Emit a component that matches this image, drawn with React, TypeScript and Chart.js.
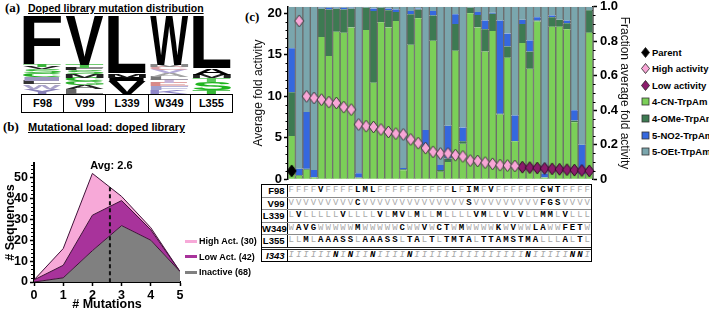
import React, { useEffect, useRef } from "react";
import { Chart, registerables } from "chart.js";

Chart.register(...registerables);

const SANS = '"Liberation Sans", Arial, Helvetica, sans-serif';
const SERIF = '"Liberation Serif", "Times New Roman", serif';
const MONO = '"Liberation Mono", "Courier New", monospace';

Chart.defaults.color = "#000";
Chart.defaults.font.family = SANS;

/* ---------- (a) doped-library sequence logo ---------- */
const logoPositions = ["F98", "V99", "L339", "W349", "L355"];
const logoMaxBits = 4.32;
// residue stacks, bottom to top: [residue, bits, colour]
const logoF98: [string, number, string][] = [
  ["Y", 0.3, "#8a82b8"], ["W", 0.24, "#a9a3c9"], ["L", 0.18, "#333333"], ["I", 0.24, "#9d97c0"],
  ["C", 0.18, "#20b020"], ["S", 0.24, "#37b837"], ["V", 0.12, "#222222"], ["T", 0.12, "#3cb43c"],
  ["F", 2.7, "#000000"],
];
const logoV99: [string, number, string][] = [
  ["L", 0.3, "#666666"], ["A", 0.18, "#222222"], ["G", 0.24, "#2cb02c"], ["C", 0.18, "#20b020"],
  ["M", 0.18, "#222222"], ["S", 0.24, "#3cb43c"], ["F", 0.12, "#222222"], ["T", 0.18, "#49bd49"],
  ["V", 2.7, "#000000"],
];
const logoL339: [string, number, string][] = [
  ["V", 0.72, "#000000"], ["I", 0.18, "#000000"], ["M", 0.24, "#111111"],
  ["L", 3.18, "#000000"],
];
const logoW349: [string, number, string][] = [
  ["K", 0.24, "#8f86c8"], ["F", 0.18, "#9f9fd0"], ["E", 0.18, "#d88a8a"], ["T", 0.18, "#c7b3d9"],
  ["L", 0.18, "#777777"], ["A", 0.18, "#a3a3a3"], ["V", 0.18, "#b2a8d8"], ["C", 0.18, "#d99fa3"],
  ["M", 0.12, "#888888"], ["W", 2.7, "#000000"],
];
const logoL355: [string, number, string][] = [
  ["T", 0.24, "#37b837"], ["S", 0.42, "#1fb51f"], ["T", 0.24, "#5bc95b"], ["M", 0.18, "#222222"],
  ["A", 0.36, "#000000"], ["L", 2.88, "#000000"],
];
const logoStacks = [logoF98, logoV99, logoL339, logoW349, logoL355];

/* ---------- (b) mutational load of the doped library ---------- */
const mutationCounts = [0, 1, 2, 3, 4, 5];
const inactiveSeqs = [0, 2, 15, 27, 20, 5];
const lowActSeqs = [1, 6, 17, 12, 5, 0];
const highActSeqs = [0, 8, 20, 2, 1, 0];
const avgMutations = 2.6;
const loadLegend = ["High Act. (30)", "Low Act. (42)", "Inactive (68)"];

/* ---------- (c) fold activity of the selected variants ---------- */
const parentFold = [1.0];
const highFold = [
  19.1, 10.0, 9.8, 9.6, 9.3, 9.2, 8.7, 8.4, 6.6, 6.4, 6.3, 6.0, 5.7, 5.5, 5.4,
  4.8, 4.35, 3.75, 3.3, 3.1, 3.1, 2.9, 2.75, 2.25, 2.2, 2.0, 1.85, 1.7, 1.65, 1.6,
];
const lowFold = [1.45, 1.4, 1.35, 1.3, 1.25, 1.2, 1.15, 1.1, 1.05, 1.0];

const fracCN = [
  0.25, 0.02, 0.055, 0.01, 0.825, 0.715, 0.855, 0.85, 0.88, 0.005, 0.865, 0.56, 0.91, 0.88,
  0.918, 0.052, 0.78, 0.933, 0.175, 0.803, 0.043, 0.1, 0.745, 0.205, 0.962, 0.88, 0.74, 0.86,
  0.375, 0.705, 0.22, 0.79, 0.64, 0.915, 0.01, 0.885, 0.885, 0.87, 0.33, 0.03, 0.85,
];
const fracOMe = [
  0.255, 0.005, 0.005, 0.003, 0.165, 0.27, 0.135, 0.135, 0.11, 0.005, 0.13, 0.415, 0.085, 0.1,
  0.052, 0.005, 0.177, 0.052, 0.01, 0.147, 0.01, 0.02, 0.155, 0.015, 0.033, 0.072, 0.13, 0.1,
  0.005, 0.065, 0, 0.11, 0.1, 0.005, 0, 0.055, 0.04, 0.035, 0.01, 0, 0.13,
];
const fracNO2 = [
  0.255, 0.035, 0.33, 0.04, 0.005, 0.01, 0.005, 0.01, 0.005, 0.025, 0, 0.015, 0, 0.01,
  0.015, 0.008, 0.019, 0.005, 0.1, 0.026, 0.03, 0.19, 0.057, 0.08, 0, 0.018, 0.05, 0.005,
  0.54, 0.075, 0.15, 0.025, 0.065, 0.02, 0.02, 0.01, 0, 0.015, 0.06, 0.17, 0,
];
const fracOEt = [
  0.24, 0.94, 0.61, 0.947, 0.005, 0.005, 0.005, 0.005, 0.005, 0.965, 0.005, 0.01, 0.005, 0.01,
  0.015, 0.935, 0.024, 0.01, 0.715, 0.024, 0.917, 0.69, 0.043, 0.7, 0.005, 0.03, 0.08, 0.035,
  0.08, 0.155, 0.63, 0.075, 0.195, 0.06, 0.97, 0.05, 0.075, 0.08, 0.6, 0.8, 0.02,
];

const seqRowLabels = ["F98", "V99", "L339", "W349", "L355"];
const seqRows = [
  "FFFFVFFFFLMLFFFFFFFFFFLFIMFVFFFFFFCWTFFFF",
  "VVVVVVVVVCVVVVVVVVVVVVVVSVVVVVVVVVFGSVVVV",
  "LVLLLLLVLLLLVLMVLMLLMLLLLVMLLVLVLLMMLVLLL",
  "WAVGWWWWWMWWWWWCWWVWCTWMWWWWKWVWWLAWWFETW",
  "LLMLAAASSLAAASSLTALTLTMTALTTAMSTMALLLALTL",
];
const i343Label = "I343";
const i343Row = "IIIIIININIINIIIINIIIIIIIIIIIIIIINIIIIINNI";

const variantLabels = seqRows[0].split("").map((_, i) => `v${i}`);

const COLORS = {
  pinkArea: "#f7a9d8",
  purpleArea: "#a8339b",
  grayArea: "#808080",
  areaEdge: "#3f1238",
  parent: "#000000",
  high: "#f8a6d6",
  low: "#8b1c6c",
  cn: "#7bcf58",
  ome: "#3d7a52",
  no2: "#3568de",
  oet: "#7aa6ad",
  barGap: "#6c6c6c",
};

/* ---------- drawing helpers ---------- */
function drawGlyph(ctx: CanvasRenderingContext2D, ch: string, color: string,
  x0: number, x1: number, yTop: number, yBot: number) {
  const h = yBot - yTop;
  if (h < 0.3) return;
  ctx.save();
  ctx.font = `bold 100px ${SANS}`;
  ctx.textAlign = "left";
  ctx.textBaseline = "alphabetic";
  const m = ctx.measureText(ch);
  const gw = m.actualBoundingBoxLeft + m.actualBoundingBoxRight;
  const gh = m.actualBoundingBoxAscent + m.actualBoundingBoxDescent;
  ctx.translate(x0, yTop);
  ctx.scale((x1 - x0) / gw, h / gh);
  ctx.fillStyle = color;
  ctx.fillText(ch, m.actualBoundingBoxLeft, m.actualBoundingBoxAscent);
  ctx.restore();
}

const logoLettersPlugin = {
  id: "logoLetters",
  afterDatasetsDraw(chart: any) {
    const { ctx, scales: { x, y } } = chart;
    const colW = x.width / logoPositions.length;
    logoStacks.forEach((stack, i) => {
      const cx = x.getPixelForValue(i);
      const x0 = cx - colW * 0.45;
      const x1 = cx + colW * 0.45;
      let base = 0;
      stack.forEach(([ch, bits, color]) => {
        drawGlyph(ctx, ch, color, x0, x1, y.getPixelForValue(base + bits), y.getPixelForValue(base));
        base += bits;
      });
    });
  },
};

const loadOverlayPlugin = {
  id: "loadOverlay",
  afterDraw(chart: any) {
    const { ctx, chartArea: a, scales: { x, y } } = chart;
    ctx.save();
    ctx.strokeStyle = "#000";
    ctx.lineWidth = 1;
    for (let v = 2; v < 57; v += 2) {
      if (v % 10 === 0) continue;
      const py = Math.round(y.getPixelForValue(v)) + 0.5;
      ctx.beginPath();
      ctx.moveTo(a.left - 3, py);
      ctx.lineTo(a.left, py);
      ctx.stroke();
    }
    const totals = mutationCounts.map((_, i) => inactiveSeqs[i] + lowActSeqs[i] + highActSeqs[i]);
    const i0 = Math.floor(avgMutations);
    const f = avgMutations - i0;
    const top = totals[i0] + (totals[i0 + 1] - totals[i0]) * f;
    const px = x.getPixelForValue(avgMutations);
    ctx.setLineDash([4, 3]);
    ctx.lineWidth = 2;
    ctx.strokeStyle = "#111";
    ctx.beginPath();
    ctx.moveTo(px, y.getPixelForValue(top));
    ctx.lineTo(px, y.getPixelForValue(0));
    ctx.stroke();
    ctx.setLineDash([]);
    ctx.font = `bold 11px ${SANS}`;
    ctx.fillStyle = "#000";
    ctx.textAlign = "center";
    ctx.textBaseline = "middle";
    ctx.fillText(`Avg: ${avgMutations}`, x.getPixelForValue(avgMutations + 0.05), y.getPixelForValue(55.5));
    ctx.restore();
  },
};

const activityTicksPlugin = {
  id: "activityMinorTicks",
  afterDraw(chart: any) {
    const { ctx, chartArea: a, scales: { y, y2 } } = chart;
    ctx.save();
    ctx.strokeStyle = "#000";
    ctx.lineWidth = 1;
    for (let v = 1; v < 21; v++) {
      if (v % 5 === 0) continue;
      const py = Math.round(y.getPixelForValue(v)) + 0.5;
      ctx.beginPath();
      ctx.moveTo(a.left - 2.5, py);
      ctx.lineTo(a.left, py);
      ctx.stroke();
    }
    for (let k = 1; k < 20; k++) {
      if (k % 4 === 0) continue;
      const py = Math.round(y2.getPixelForValue(k * 0.05)) + 0.5;
      ctx.beginPath();
      ctx.moveTo(a.right, py);
      ctx.lineTo(a.right + 2.5, py);
      ctx.stroke();
    }
    ctx.restore();
  },
};

function diamondImage(fill: string, stroke: string) {
  const c = document.createElement("canvas");
  c.width = 11;
  c.height = 14;
  const g = c.getContext("2d")!;
  g.beginPath();
  g.moveTo(5.5, 1);
  g.lineTo(10, 7);
  g.lineTo(5.5, 13);
  g.lineTo(1, 7);
  g.closePath();
  g.fillStyle = fill;
  g.fill();
  g.lineWidth = 1;
  g.strokeStyle = stroke;
  g.stroke();
  return c;
}

function placeSeries(start: number, vals: number[]) {
  return variantLabels.map((_, i) => (i >= start && i < start + vals.length ? vals[i - start] : null));
}

/* ---------- chart factories ---------- */
function makeLogo(canvas: HTMLCanvasElement) {
  return new Chart(canvas, {
    type: "bar",
    data: {
      labels: logoPositions,
      datasets: [{
        data: logoStacks.map((s) => s.reduce((acc, r) => acc + r[1], 0)),
        backgroundColor: "rgba(0,0,0,0)",
      }],
    },
    options: {
      responsive: false,
      animation: false,
      events: [],
      layout: { padding: 0 },
      plugins: { legend: { display: false }, tooltip: { enabled: false } },
      scales: {
        x: { display: false, offset: true },
        y: { display: false, min: 0, max: logoMaxBits },
      },
    },
    plugins: [logoLettersPlugin],
  } as any);
}

function makeLoad(canvas: HTMLCanvasElement) {
  const pts = (vals: number[]) => mutationCounts.map((m, i) => ({ x: m, y: vals[i] }));
  const tickFont = { size: 12.5, weight: "bold" as const };
  return new Chart(canvas, {
    type: "line",
    data: {
      datasets: [
        { label: loadLegend[2], data: pts(inactiveSeqs), backgroundColor: COLORS.grayArea, borderColor: COLORS.areaEdge, borderWidth: 1, fill: "origin", pointRadius: 0 },
        { label: loadLegend[1], data: pts(lowActSeqs), backgroundColor: COLORS.purpleArea, borderColor: COLORS.areaEdge, borderWidth: 1, fill: "-1", pointRadius: 0 },
        { label: loadLegend[0], data: pts(highActSeqs), backgroundColor: COLORS.pinkArea, borderColor: COLORS.areaEdge, borderWidth: 1, fill: "-1", pointRadius: 0 },
      ],
    },
    options: {
      responsive: false,
      animation: false,
      events: [],
      layout: { padding: { top: 14, right: 10, left: 0, bottom: 0 } },
      plugins: { legend: { display: false }, tooltip: { enabled: false } },
      scales: {
        x: {
          type: "linear", min: 0, max: 5,
          ticks: { stepSize: 1, font: tickFont, padding: 2, color: "#000" },
          grid: { drawOnChartArea: false, tickLength: 4, color: "#000", tickWidth: 1.5 },
          border: { color: "#000", width: 2 },
          title: { display: true, text: "# Mutations", font: tickFont, padding: { top: 0, bottom: 0 }, color: "#000" },
          afterFit(s: any) { s.height = 30; },
        },
        y: {
          stacked: true, min: 0, max: 57,
          ticks: { stepSize: 10, includeBounds: false, font: tickFont, padding: 2, color: "#000" },
          grid: { drawOnChartArea: false, tickLength: 4, color: "#000", tickWidth: 1.5 },
          border: { color: "#000", width: 2 },
          title: { display: true, text: "# Sequences", font: tickFont, padding: { top: 3, bottom: 0 }, color: "#000" },
          afterFit(s: any) { s.width = 34; },
        },
      },
    },
    plugins: [loadOverlayPlugin],
  } as any);
}

function makeActivity(canvas: HTMLCanvasElement) {
  const tickFont = { size: 13, weight: "bold" as const };
  const bar = (label: string, data: number[], color: string) => ({
    type: "bar", label, data, yAxisID: "y2", stack: "frac", order: 1,
    backgroundColor: color, borderColor: COLORS.barGap,
    borderWidth: { left: 1, right: 1, top: 0, bottom: 0 },
    barPercentage: 1, categoryPercentage: 1,
  });
  const marks = (label: string, data: (number | null)[], img: HTMLCanvasElement) => ({
    type: "line", label, data, yAxisID: "y", showLine: false, order: 0,
    pointStyle: img, pointRadius: 6, spanGaps: false,
  });
  return new Chart(canvas, {
    data: {
      labels: variantLabels,
      datasets: [
        marks("Parent", placeSeries(0, parentFold), diamondImage(COLORS.parent, "#000")),
        marks("High activity", placeSeries(1, highFold), diamondImage(COLORS.high, "#3a3a3a")),
        marks("Low activity", placeSeries(1 + highFold.length, lowFold), diamondImage(COLORS.low, "#2a0822")),
        bar("4-CN-TrpAm", fracCN, COLORS.cn),
        bar("4-OMe-TrpAm", fracOMe, COLORS.ome),
        bar("5-NO2-TrpAm", fracNO2, COLORS.no2),
        bar("5-OEt-TrpAm", fracOEt, COLORS.oet),
      ],
    },
    options: {
      responsive: false,
      animation: false,
      events: [],
      layout: { padding: { top: 10, right: 7, left: 0, bottom: 9 } },
      plugins: { legend: { display: false }, tooltip: { enabled: false } },
      scales: {
        x: { display: false, stacked: true, offset: true },
        y: {
          position: "left", min: 0, max: 20.8,
          ticks: { stepSize: 5, includeBounds: false, font: tickFont, padding: 2, color: "#000" },
          grid: { drawOnChartArea: false, tickLength: 4, color: "#000", tickWidth: 1.5 },
          border: { color: "#000", width: 1.5 },
          title: { display: true, text: "Average fold activity", font: { size: 12 }, padding: { top: 11, bottom: 0 }, color: "#111" },
          afterFit(s: any) { s.width = 48; },
        },
        y2: {
          position: "right", stacked: true, min: 0, max: 1,
          ticks: { stepSize: 0.2, includeBounds: false, font: tickFont, padding: 3, color: "#000" },
          grid: { drawOnChartArea: false, tickLength: 4, color: "#000", tickWidth: 1.5 },
          border: { color: "#000", width: 1.5 },
          title: { display: true, text: "Fraction average fold activity", font: { size: 12 }, padding: { top: 1, bottom: 0 }, color: "#111" },
          afterFit(s: any) { s.width = 40; },
        },
      },
    },
    plugins: [activityTicksPlugin],
  } as any);
}

/* ---------- components ---------- */
function ChartCanvas({ left, top, width, height, make }: {
  left: number; top: number; width: number; height: number;
  make: (c: HTMLCanvasElement) => Chart;
}) {
  const ref = useRef<HTMLCanvasElement>(null);
  useEffect(() => {
    const chart = make(ref.current!);
    return () => chart.destroy();
  }, []);
  return (
    <canvas ref={ref} width={width} height={height}
      style={{ position: "absolute", left, top, width, height }} />
  );
}

function PanelTitle({ tag, text, left, top, textLeft, size = 11 }: { tag: string; text?: string; left: number; top: number; textLeft?: number; size?: number }) {
  return (
    <>
      <div style={{ position: "absolute", left, top, font: `bold 13px ${SERIF}`, lineHeight: "14px", whiteSpace: "nowrap" }}>{tag}</div>
      {text && (
        <div style={{ position: "absolute", left: textLeft, top: top + 1, font: `bold ${size}px ${SANS}`, lineHeight: "13px", textDecoration: "underline", whiteSpace: "nowrap" }}>{text}</div>
      )}
    </>
  );
}

function Diamond({ fill }: { fill: string }) {
  return (
    <svg width={9} height={11} style={{ display: "block" }}>
      <polygon points="4.5,0.5 8.5,5.5 4.5,10.5 0.5,5.5" fill={fill} stroke="#222" strokeWidth={0.8} />
    </svg>
  );
}

function Swatch({ fill }: { fill: string }) {
  return (
    <svg width={9} height={9} style={{ display: "block" }}>
      <rect x={1} y={1} width={7} height={7} fill={fill} stroke="#333" strokeWidth={0.8} />
    </svg>
  );
}

const activityLegend: { label: string; kind: "diamond" | "square"; color: string }[] = [
  { label: "Parent", kind: "diamond", color: COLORS.parent },
  { label: "High activity", kind: "diamond", color: COLORS.high },
  { label: "Low activity", kind: "diamond", color: COLORS.low },
  { label: "4-CN-TrpAm", kind: "square", color: COLORS.cn },
  { label: "4-OMe-TrpAm", kind: "square", color: COLORS.ome },
  { label: "5-NO2-TrpAm", kind: "square", color: COLORS.no2 },
  { label: "5-OEt-TrpAm", kind: "square", color: COLORS.oet },
];

function SeqTable() {
  const rows = [
    ...seqRows.map((seq, i) => ({ label: seqRowLabels[i], seq, italic: false })),
    { label: i343Label, seq: i343Row, italic: true },
  ];
  return (
    <div style={{ position: "absolute", left: 261, top: 184, width: 331, border: "1.5px solid #000", boxSizing: "border-box", background: "#fff" }}>
      {rows.map((row, ri) => (
        <div key={row.label} style={{
          display: "grid", gridTemplateColumns: "25.5px repeat(41, 1fr)", height: 11.5,
          borderTop: ri === 0 ? "none" : ri === rows.length - 1 ? "3px double #222" : "1px solid #8a8a8a",
        }}>
          <div style={{ textAlign: "right", paddingRight: 2, font: `${row.italic ? "italic " : ""}bold 9.5px ${SANS}`, lineHeight: "11.5px", borderRight: "1.5px solid #000" }}>{row.label}</div>
          {row.seq.split("").map((ch, k) => {
            const mutated = ch !== row.seq[0];
            return (
              <div key={k} style={{
                textAlign: "center", lineHeight: "11.5px",
                font: `${row.italic ? "italic " : ""}${mutated ? "bold" : "normal"} 9px ${MONO}`,
                color: mutated ? "#000" : "#a8a8a8",
              }}>{ch}</div>
            );
          })}
        </div>
      ))}
    </div>
  );
}

export default function App() {
  const loadColors = [COLORS.pinkArea, COLORS.purpleArea, COLORS.grayArea];
  return (
    <div style={{ position: "fixed", left: 0, top: 0, width: 709, height: 309, overflow: "hidden", background: "#fff", fontFamily: SANS, color: "#000" }}>
      {/* (a) */}
      <PanelTitle tag="(a)" text="Doped library mutation distribution" left={5} top={1} textLeft={28} size={10.5} />
      <ChartCanvas left={21} top={16} width={212} height={78} make={makeLogo} />
      <div style={{ position: "absolute", left: 21, top: 94, width: 212, height: 19, display: "flex", border: "1px solid #000", boxSizing: "border-box" }}>
        {logoPositions.map((p, i) => (
          <div key={p} style={{ flex: 1, borderLeft: i ? "1px solid #000" : "none", font: `bold 11px ${SANS}`, lineHeight: "17px", textAlign: "center" }}>{p}</div>
        ))}
      </div>

      {/* (b) */}
      <PanelTitle tag="(b)" text="Mutational load: doped library" left={3} top={120} textLeft={28} size={11} />
      <ChartCanvas left={0} top={149} width={190} height={163} make={makeLoad} />
      {loadLegend.map((label, i) => (
        <div key={label} style={{ position: "absolute", left: 185, top: 235 + i * 15.5, display: "flex", alignItems: "center", height: 12 }}>
          <div style={{ width: 12, height: 3, background: loadColors[i], marginRight: 2 }} />
          <span style={{ font: `bold 9px ${SANS}`, whiteSpace: "nowrap" }}>{label}</span>
        </div>
      ))}

      {/* (c) */}
      <PanelTitle tag="(c)" left={245} top={10} />
      <ChartCanvas left={240} top={-4} width={400} height={194} make={makeActivity} />
      {activityLegend.map((item, i) => (
        <div key={item.label} style={{ position: "absolute", left: 641, top: 46 + i * 16.6, display: "flex", alignItems: "center", height: 12 }}>
          <div style={{ width: 9, marginRight: 2 }}>
            {item.kind === "diamond" ? <Diamond fill={item.color} /> : <Swatch fill={item.color} />}
          </div>
          <span style={{ font: `bold 9.5px ${SANS}`, whiteSpace: "nowrap" }}>{item.label}</span>
        </div>
      ))}
      <SeqTable />
    </div>
  );
}
